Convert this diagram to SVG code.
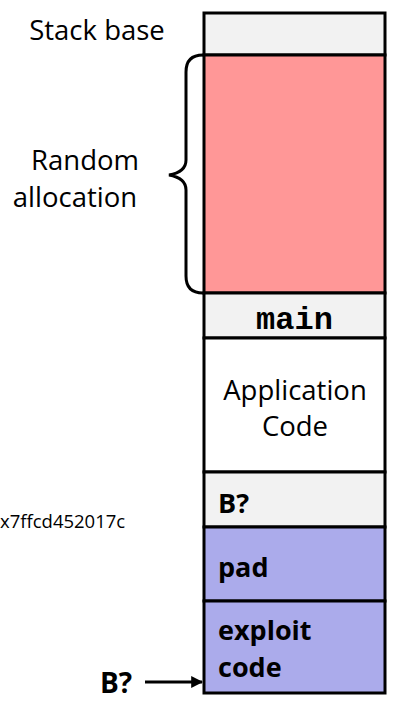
<svg xmlns="http://www.w3.org/2000/svg" width="409" height="718" viewBox="0 0 409 718">
<defs>
<style>
.box{stroke:#000;stroke-width:3}
.t{font-family:"Open Sans","Liberation Sans",sans-serif;font-size:27.5px;fill:#000}
.b{font-weight:bold;font-size:27px}
.m{font-family:"Liberation Mono",monospace;font-weight:bold;font-size:32px}
</style>
<marker id="ah" viewBox="0 0 10 10" refX="9" refY="5" markerWidth="4" markerHeight="4" orient="auto" markerUnits="strokeWidth">
<path d="M0,0 L10,5 L0,10 z" fill="#000"/>
</marker>
</defs>
<rect width="409" height="718" fill="#fff"/>
<g id="stackbase"><rect class="box" x="204" y="13" width="181" height="42" fill="#f2f2f2"/></g>
<g id="random"><rect class="box" x="204" y="55" width="181" height="238" fill="#ff9797"/></g>
<g id="main"><rect class="box" x="204" y="293" width="181" height="45" fill="#f2f2f2"/>
<text class="m" x="294.5" y="329" text-anchor="middle">main</text></g>
<g id="appcode"><rect class="box" x="204" y="338" width="181" height="134" fill="#fff"/>
<text class="t" x="295" y="400" text-anchor="middle">Application</text>
<text class="t" x="295" y="436" text-anchor="middle">Code</text></g>
<g id="bq"><rect class="box" x="204" y="472" width="181" height="55" fill="#f2f2f2"/>
<text class="t b" x="218" y="513">B?</text></g>
<g id="pad"><rect class="box" x="204" y="527" width="181" height="74" fill="#ababeb"/>
<text class="t b" x="218" y="577">pad</text></g>
<g id="exploit"><rect class="box" x="204" y="601" width="181" height="92" fill="#ababeb"/>
<text class="t b" x="218" y="640">exploit</text>
<text class="t b" x="218" y="677">code</text></g>
<g id="labels">
<text class="t" x="97" y="40" text-anchor="middle">Stack base</text>
<text class="t" x="85" y="170" text-anchor="middle">Random</text>
<text class="t" x="75" y="207" text-anchor="middle">allocation</text>
<text class="t" x="0" y="528" style="font-size:18.5px">x7ffcd452017c</text>
<text class="t b" x="100" y="693" style="font-size:28px">B?</text>
</g>
<g id="connectors">
<path d="M203,55 Q186,55 186,72 L186,160 Q186,172 169,175 Q186,178 186,190 L186,276 Q186,293 203,293" fill="none" stroke="#000" stroke-width="3"/>
<line x1="145" y1="682" x2="202" y2="682" stroke="#000" stroke-width="3" marker-end="url(#ah)"/>
</g>
</svg>
